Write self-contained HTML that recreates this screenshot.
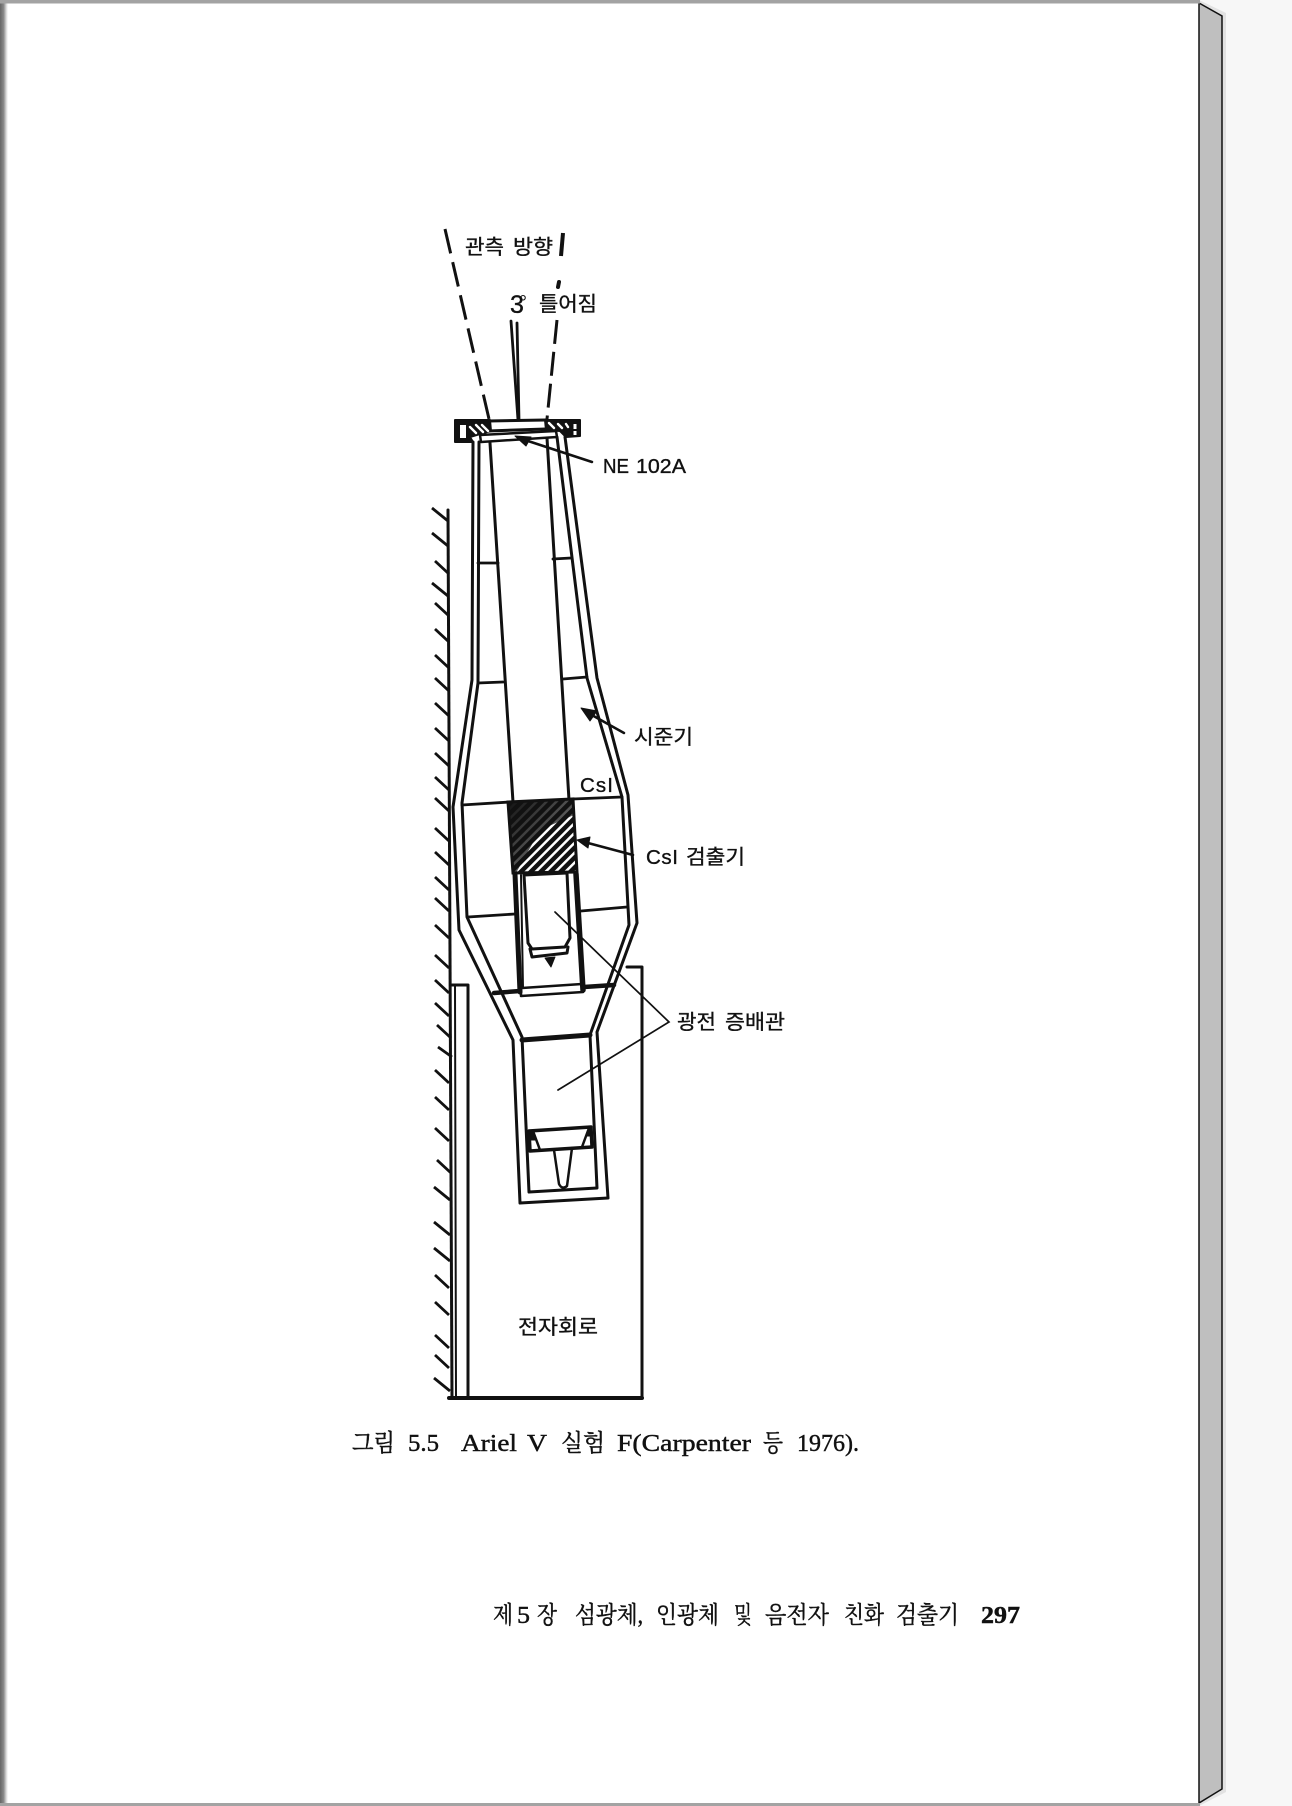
<!DOCTYPE html>
<html lang="ko">
<head>
<meta charset="utf-8">
<style>
html,body{margin:0;padding:0;background:#fff}
body{width:1292px;height:1806px;overflow:hidden}
svg{display:block}
.g{font-family:"Liberation Sans","Noto Sans CJK KR",sans-serif;font-size:20.5px;fill:#111;stroke:#111;stroke-width:.35}
.s{font-family:"Liberation Serif","Noto Serif CJK KR","Noto Serif CJK SC",serif;font-size:24px;fill:#111;stroke:#111;stroke-width:.45}
</style>
</head>
<body>
<svg width="1292" height="1806" viewBox="0 0 1292 1806" xmlns="http://www.w3.org/2000/svg">
<defs>
<linearGradient id="lg" x1="0" x2="1" y1="0" y2="0">
<stop offset="0" stop-color="#666"/><stop offset=".45" stop-color="#888"/><stop offset=".8" stop-color="#ddd"/><stop offset="1" stop-color="#fff"/>
</linearGradient>
<pattern id="hatch" width="7" height="7" patternUnits="userSpaceOnUse" patternTransform="rotate(45)">
<rect width="7" height="7" fill="#111"/><rect x="0" width="2.5" height="7" fill="#fff"/>
</pattern>
<linearGradient id="fade" x1="0" y1="0" x2="1" y2="1">
<stop offset="0" stop-color="#111" stop-opacity="1"/><stop offset=".55" stop-color="#111" stop-opacity=".7"/><stop offset="1" stop-color="#111" stop-opacity="0"/>
</linearGradient>
</defs>

<!-- page frame -->
<rect x="1199" y="0" width="93" height="1806" fill="#f7f7f7"/>
<rect width="1199" height="1806" fill="#fff"/>
<polygon points="1199,0 1226,13 1226,1792 1199,1806" fill="#e2e2e2"/>
<polygon points="1199,3 1222,16 1222,1789 1199,1803" fill="#bfbfbf" stroke="#111" stroke-width="1.5"/>
<rect x="0" y="0" width="8" height="1806" fill="url(#lg)"/>
<rect x="0" y="0" width="1200" height="3.5" fill="#a3a3a3"/>
<rect x="0" y="1803" width="1200" height="3" fill="#a3a3a3"/>

<g fill="none" stroke="#111" stroke-width="2.8" stroke-linejoin="round" stroke-linecap="round">
<!-- sight lines -->
<line x1="445" y1="229" x2="489" y2="419" stroke-width="3" stroke-dasharray="25,9" stroke-linecap="butt"/>
<line x1="563" y1="233" x2="561" y2="256" stroke-width="4" stroke-linecap="butt"/>
<line x1="559" y1="282" x2="558" y2="287" stroke-width="4"/>
<line x1="557" y1="320" x2="547" y2="419" stroke-width="3" stroke-dasharray="24,8" stroke-linecap="butt"/>
<line x1="511" y1="321" x2="518" y2="420"/>
<line x1="517" y1="323" x2="519" y2="420"/>

<!-- flange -->
<polygon points="455,420 490,420 491,431 480,434 470,437 473,442 455,442" fill="#111" stroke-width="2"/>
<polygon points="545,420 580,420 580,436 566,437 560,431 546,430" fill="#111" stroke-width="2"/>
<path d="M488,421 L546,420 M488,431 L546,429" stroke-width="3"/>
<path d="M480,435 L556,431 L557,437 L481,442 Z" stroke-width="2.5"/>
<rect x="460" y="425" width="6" height="13" fill="#fff" stroke="none"/>
<path d="M470,427 L476,433 M476,425 L483,432 M482,425 L488,431 M549,423 L554,428 M558,424 L562,428 M566,424 L568,427" stroke="#fff" stroke-width="2.4"/>
<path d="M575,424 L575,429 M575,431 L575,435" stroke="#fff" stroke-width="3" stroke-linecap="butt"/>

<!-- outer shell -->
<path d="M473,442 L472,680 L453,807 L459,930 L513,1040 L520,1203 L608,1198 L597,1032 L637,923 L628,795 L597,678 L565,437" stroke-width="3"/>
<!-- inner shell -->
<path d="M479,442 L478,683 L462,803 L467,917 L522,1037 L529,1192 L597,1188 L590,1035 L629,925 L622,797 L587,678 L557,437" stroke-width="3"/>
<line x1="522" y1="1040" x2="590" y2="1035" stroke-width="5"/>

<!-- collimator tube -->
<line x1="490" y1="443" x2="513" y2="802" stroke-width="3"/>
<line x1="547" y1="438" x2="569" y2="800" stroke-width="3"/>
<!-- cross bars -->
<line x1="478" y1="563" x2="498" y2="563"/>
<line x1="553" y1="559" x2="571" y2="558"/>
<line x1="478" y1="683" x2="503" y2="682"/>
<line x1="563" y1="679" x2="587" y2="677"/>
<line x1="462" y1="805" x2="510" y2="802"/>
<line x1="573" y1="799" x2="622" y2="797"/>
<line x1="468" y1="917" x2="515" y2="914"/>
<line x1="581" y1="911" x2="627" y2="907"/>
</g>

<!-- CsI crystal -->
<polygon points="508,802 573,799 577,872 513,873" fill="url(#hatch)" stroke="#111" stroke-width="3"/>
<polygon points="508,802 573,799 574,815 540,830 516,873 513,873" fill="url(#fade)"/>

<g fill="none" stroke="#111" stroke-width="3" stroke-linejoin="round" stroke-linecap="round">
<!-- upper PMT -->
<line x1="515" y1="874" x2="520" y2="992" stroke-width="5"/>
<line x1="576" y1="874" x2="583" y2="990" stroke-width="5.5"/>
<line x1="521" y1="875" x2="523" y2="988" stroke-width="2"/>
<path d="M524,875 L567,873 L570,938 L565,947 L532,949 L528,943 Z" stroke-width="3"/>
<path d="M530,949 L532,957 L567,953 L568,947" stroke-width="3"/>
<polygon points="545,958 555,957 551,967" fill="#111" stroke-width="1"/>
<path d="M522,988 L582,984 M521,996 L583,992 M521,988 L521,996 M583,984 L583,992" stroke-width="2.5"/>
<path d="M494,993 L520,991 M584,987 L614,985" stroke-width="4.5"/>

<!-- lower PMT -->
<path d="M529,1131 L591,1127 L592,1147 L530,1151 Z" stroke-width="3.5"/>
<path d="M533,1131 L540,1150 M589,1128 L582,1147" stroke-width="2.5"/>
<polygon points="530,1132 533,1132 536,1140 531,1140" fill="#111" stroke-width="1"/>
<polygon points="590,1128 588,1130 586,1136 591,1136" fill="#111" stroke-width="1"/>
<path d="M554,1150 L559,1184 Q562,1190 567,1186 L572,1148" stroke-width="2.5"/>

<!-- wall and electronics box -->
<line x1="448" y1="510" x2="452" y2="1398" stroke-width="3"/>
<path d="M452,985 L468,985 L468,1398" stroke-width="3"/>
<line x1="455" y1="985" x2="456" y2="1398" stroke-width="2"/>
<path d="M627,967 L642,967 L642,1398" stroke-width="3"/>
<line x1="449" y1="1398" x2="642" y2="1398" stroke-width="4"/>

<!-- hatch ticks -->
<g stroke-width="2.8" stroke-linecap="butt">
<path d="M432,508l16,13 M432,533l16,13 M435,561l14,13 M432,583l16,13 M435,603l14,13 M435,629l14,13 M435,655l14,13 M435,678l14,13 M435,703l14,13 M435,728l14,13 M435,753l14,13 M435,777l14,13 M435,798l14,13 M435,828l14,13 M435,852l14,13 M435,877l14,13 M435,898l14,13 M435,925l14,13 M435,955l14,13 M435,980l14,13 M435,1003l14,13 M437,1025l14,13 M438,1047l14,10 M435,1070l14,13 M435,1097l14,13 M435,1128l14,13 M437,1160l14,13 M434,1187l16,13 M434,1222l16,13 M434,1248l16,13 M435,1275l14,13 M435,1302l14,13 M435,1335l14,13 M435,1355l14,13 M434,1378l16,13"/>
</g>

<!-- leaders -->
<line x1="592" y1="462" x2="525" y2="440" stroke-width="2.5"/>
<polygon points="515,436 531,437 526,446" fill="#111" stroke-width="1"/>
<line x1="624" y1="733" x2="590" y2="714" stroke-width="2.5"/>
<polygon points="581,708 597,711 590,721" fill="#111" stroke-width="1"/>
<line x1="633" y1="855" x2="588" y2="843" stroke-width="2.5"/>
<polygon points="577,840 590,837 588,848" fill="#111" stroke-width="1"/>
<path d="M555,912 L669,1022 L558,1090" stroke-width="1.7" stroke-linejoin="miter"/>
</g>

<!-- labels -->
<text class="g" x="465" y="254" textLength="39" lengthAdjust="spacingAndGlyphs">관측</text>
<text class="g" x="513" y="254" textLength="40" lengthAdjust="spacingAndGlyphs">방향</text>
<text class="g" x="510" y="313" style="font-size:25px">3</text>
<text class="g" x="519" y="309" style="font-size:20px;stroke-width:0">°</text>
<text class="g" x="539" y="311" textLength="58" lengthAdjust="spacingAndGlyphs">틀어짐</text>
<text class="g" x="603" y="473" textLength="26" lengthAdjust="spacingAndGlyphs">NE</text>
<text class="g" x="636" y="473" textLength="50" lengthAdjust="spacingAndGlyphs">102A</text>
<text class="g" x="634" y="744" textLength="59" lengthAdjust="spacingAndGlyphs">시준기</text>
<text class="g" x="580" y="792" textLength="33" lengthAdjust="spacing">CsI</text>
<text class="g" x="646" y="864" textLength="32" lengthAdjust="spacing">CsI</text>
<text class="g" x="686" y="864" textLength="59" lengthAdjust="spacingAndGlyphs">검출기</text>
<text class="g" x="677" y="1029" textLength="39" lengthAdjust="spacingAndGlyphs">광전</text>
<text class="g" x="725" y="1029" textLength="60" lengthAdjust="spacingAndGlyphs">증배관</text>
<text class="g" x="518" y="1334" textLength="80" lengthAdjust="spacingAndGlyphs">전자회로</text>

<text class="s" x="352" y="1451" textLength="43" lengthAdjust="spacingAndGlyphs">그림</text>
<text class="s" x="408" y="1451" textLength="31" lengthAdjust="spacingAndGlyphs">5.5</text>
<text class="s" x="461" y="1451" textLength="56" lengthAdjust="spacingAndGlyphs">Ariel</text>
<text class="s" x="527" y="1451" textLength="20" lengthAdjust="spacingAndGlyphs">V</text>
<text class="s" x="561" y="1451" textLength="44" lengthAdjust="spacingAndGlyphs">실험</text>
<text class="s" x="617" y="1451" textLength="134" lengthAdjust="spacingAndGlyphs">F(Carpenter</text>
<text class="s" x="763" y="1451" textLength="20" lengthAdjust="spacingAndGlyphs">등</text>
<text class="s" x="797" y="1451" textLength="62" lengthAdjust="spacingAndGlyphs">1976).</text>

<text class="s" x="493" y="1623" textLength="20" lengthAdjust="spacingAndGlyphs">제</text>
<text class="s" x="517" y="1623" textLength="13" lengthAdjust="spacingAndGlyphs">5</text>
<text class="s" x="537" y="1623" textLength="20" lengthAdjust="spacingAndGlyphs">장</text>
<text class="s" x="575" y="1623" textLength="68" lengthAdjust="spacingAndGlyphs">섬광체,</text>
<text class="s" x="656" y="1623" textLength="63" lengthAdjust="spacingAndGlyphs">인광체</text>
<text class="s" x="734" y="1623" textLength="18" lengthAdjust="spacingAndGlyphs">및</text>
<text class="s" x="765" y="1623" textLength="64" lengthAdjust="spacingAndGlyphs">음전자</text>
<text class="s" x="844" y="1623" textLength="40" lengthAdjust="spacingAndGlyphs">친화</text>
<text class="s" x="896" y="1623" textLength="63" lengthAdjust="spacingAndGlyphs">검출기</text>
<text class="s" x="981" y="1623" textLength="39" lengthAdjust="spacingAndGlyphs" font-weight="bold">297</text>
</svg>
</body>
</html>
